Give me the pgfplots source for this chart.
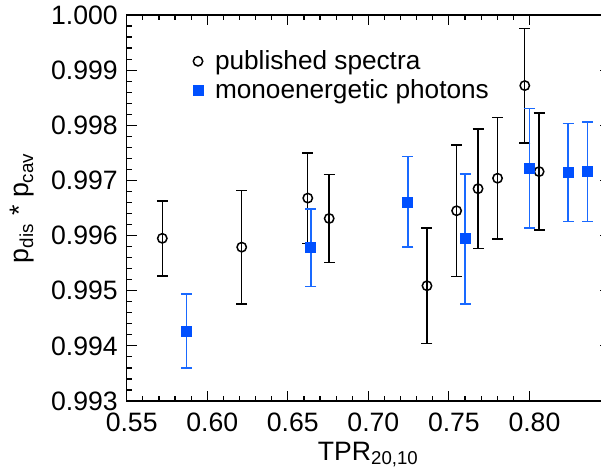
\documentclass[border=0pt]{standalone}
\usepackage{fontspec}
\setmainfont{Liberation Sans}
\usepackage{pgfplots}
\pgfplotsset{compat=1.18}
\definecolor{mblue}{RGB}{0,80,255}
\definecolor{eblue}{RGB}{25,105,255}

\pgfplotstableread{
x      y       e
0.5721 0.99595 0.00068
0.6214 0.99579 0.00103
0.6624 0.99668 0.00082
0.6757 0.99631 0.00080
0.7364 0.99509 0.00105
0.7548 0.99645 0.00119
0.7681 0.99685 0.00108
0.7802 0.99704 0.00110
0.7971 0.99872 0.00104
0.8060 0.99716 0.00106
}\published
\pgfplotstableread{
x      y       e
0.5871 0.99427 0.00067
0.6643 0.99578 0.00070
0.7245 0.99661 0.00082
0.7600 0.99594 0.00118
0.8000 0.99722 0.00108
0.8240 0.99714 0.00089
0.8360 0.99716 0.00090
}\mono

\begin{document}
\begin{tikzpicture}
\begin{axis}[
  scale only axis, width=241.65pt, height=193pt,
  xmin=0.55, xmax=0.85, ymin=0.993, ymax=1.000,
  xtick={0.55,0.60,0.65,0.70,0.75,0.80},
  ytick={0.993,0.994,0.995,0.996,0.997,0.998,0.999,1.000},
  minor x tick num=4, minor y tick num=4,
  tick align=inside, tick pos=both,
  major tick length=5pt, minor tick length=2.5pt,
  every tick/.style={black, line width=0.6pt},
  axis line style={line width=0.7pt},
  font=\fontsize{13.3}{15}\selectfont,
  /pgf/number format/assume math mode=true,
  scaled x ticks=false, scaled y ticks=false,
  xticklabel={\pgfmathprintnumber[fixed,fixed zerofill,precision=2]{\tick}},
  yticklabel={\pgfmathprintnumber[fixed,fixed zerofill,precision=3]{\tick}},
  xticklabel style={inner ysep=6pt, xshift=2.5pt},
  yticklabel style={inner xsep=4.3pt},
  xlabel={TPR\textsubscript{20,10}},
  ylabel={p\textsubscript{dis} * p\textsubscript{cav}},
  xlabel style={at={(axis description cs:0.5,0)}, anchor=north, inner sep=0pt, yshift=-20.4pt},
  ylabel style={at={(axis description cs:-0.2415,0.5)}, anchor=north, inner sep=0pt, font=\fontsize{13.4}{15}\selectfont},
  legend style={draw=none, fill=none, at={(0.124,0.92)}, anchor=north west,
    nodes={inner sep=0pt}, column sep=6pt, row sep=3.4pt, font=\fontsize{13.1}{15}\selectfont},
  legend cell align=left,
  legend image code/.code={\draw[#1] plot coordinates {(0pt,0pt)};},
]
\coordinate (O) at (rel axis cs:0,0);
\addplot[only marks, mark=o, mark size=2.35pt, black, line width=0.75pt,
  error bars/.cd, y dir=both, y explicit,
  error bar style={line width=0.7pt, black},
  error mark options={rotate=90, mark size=2.75pt, line width=0.7pt, black}]
  table[x=x, y=y, y error=e] {\published};
\addlegendentry{published spectra}
\addplot[only marks, mark=square*, mark size=2.5pt, mblue, mark options={draw=mblue, fill=mblue},
  error bars/.cd, y dir=both, y explicit,
  error bar style={line width=0.7pt, eblue},
  error mark options={rotate=90, mark size=2.75pt, line width=0.7pt, eblue}]
  table[x=x, y=y, y error=e] {\mono};
\addlegendentry{monoenergetic photons}
\end{axis}
\pgfresetboundingbox
\path[use as bounding box] ([shift={(-63.35pt,-37.5pt)}]O) rectangle ([shift={(237.15pt,200.5pt)}]O);
\end{tikzpicture}
\end{document}
